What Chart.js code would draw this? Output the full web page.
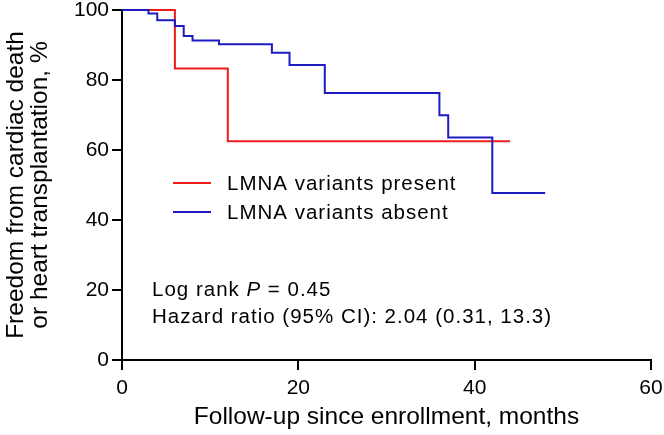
<!DOCTYPE html>
<html>
<head>
<meta charset="utf-8">
<script src="https://cdn.jsdelivr.net/npm/chart.js@4/dist/chart.umd.min.js"></script>
<style>
  html, body { margin: 0; padding: 0; background: #fff; }
  #wrap { width: 664px; height: 435px; }
</style>
</head>
<body>
<div id="wrap"><canvas id="kmChart"></canvas></div>
<script>
// --- data ---
const presentTimes = [0, 6, 12, 44];
const presentSurvival = [100, 83.3, 62.5, 62.5];
const absentTimes = [0, 3, 4, 6, 7, 8, 11, 17, 19, 23, 36, 37, 42, 48];
const absentSurvival = [100, 99, 97.1, 95.4, 92.6, 91.3, 90.2, 87.8, 84.3, 76.3, 69.9, 63.6, 47.7, 47.7];
const xTicks = [0, 20, 40, 60];
const yTicks = [0, 20, 40, 60, 80, 100];
const seriesLabels = ['LMNA variants present', 'LMNA variants absent'];
const statLines = ['Log rank P = 0.45', 'Hazard ratio (95% CI): 2.04 (0.31, 13.3)'];

const RED = '#f01c1c';
const BLUE = '#1c1cc0';
const FONT = '"Liberation Sans", Arial, sans-serif';

function toPoints(xs, ys) {
    return xs.map((x, i) => ({ x: x, y: ys[i] }));
}

// legend + stats text drawn inside the plot area
const notesPlugin = {
    id: 'notes',
    afterDatasetsDraw(chart) {
        const ctx = chart.ctx;
        const a = chart.chartArea;
        ctx.save();
        ctx.letterSpacing = '1px';
        ctx.font = '20.5px ' + FONT;
        ctx.fillStyle = '#000';
        ctx.textBaseline = 'middle';
        ctx.lineWidth = 2;
        const colors = [RED, BLUE];
        const rowsY = [183, 212];
        seriesLabels.forEach(function(lbl, i) {
            ctx.strokeStyle = colors[i];
            ctx.beginPath();
            ctx.moveTo(a.left + 51, rowsY[i]);
            ctx.lineTo(a.left + 89, rowsY[i]);
            ctx.stroke();
            ctx.fillText(lbl, a.left + 105, rowsY[i] + 1);
        });

        // stats block, "P" in italics
        ctx.textBaseline = 'alphabetic';
        let x = a.left + 30;
        const y1 = 296;
        const parts = statLines[0].split('P');
        ctx.fillText(parts[0], x, y1);
        x += ctx.measureText(parts[0]).width;
        ctx.font = 'italic 20.5px ' + FONT;
        ctx.fillText('P', x, y1);
        x += ctx.measureText('P').width;
        ctx.font = '20.5px ' + FONT;
        ctx.fillText(parts[1], x, y1);
        ctx.fillText(statLines[1], a.left + 30, 323);
        ctx.restore();
    }
};

const axisGrid = { drawOnChartArea: false, color: '#000', lineWidth: 2, tickLength: 10 };

new Chart(document.getElementById('kmChart'), {
    type: 'line',
    data: {
        datasets: [
            {
                label: seriesLabels[1],
                data: toPoints(absentTimes, absentSurvival),
                borderColor: BLUE,
                borderWidth: 2,
                stepped: true,
                pointRadius: 0,
                fill: false,
                clip: 4,
                order: 0
            },
            {
                label: seriesLabels[0],
                data: toPoints(presentTimes, presentSurvival),
                borderColor: RED,
                borderWidth: 2,
                stepped: true,
                pointRadius: 0,
                fill: false,
                clip: 4,
                order: 1
            }
        ]
    },
    options: {
        responsive: true,
        maintainAspectRatio: false,
        animation: false,
        devicePixelRatio: 1,
        layout: { padding: { top: 10, right: 13, left: 0, bottom: 0 } },
        plugins: { legend: { display: false }, tooltip: { enabled: false } },
        scales: {
            x: {
                type: 'linear',
                min: 0,
                max: 60,
                afterBuildTicks: function(s) { s.ticks = xTicks.map(v => ({ value: v })); },
                afterFit: function(s) { s.height = 75; s.paddingRight = 0; },
                ticks: { color: '#000', padding: 6, font: { family: FONT, size: 21 } },
                grid: axisGrid,
                border: { color: '#000', width: 2 },
                title: {
                    display: true,
                    text: 'Follow-up since enrollment, months',
                    color: '#000',
                    font: { family: FONT, size: 24.5, lineHeight: 1 },
                    padding: { top: 0, bottom: 6 }
                }
            },
            y: {
                min: 0,
                max: 100,
                afterBuildTicks: function(s) { s.ticks = yTicks.map(v => ({ value: v })); },
                afterFit: function(s) { s.width = 122; s.paddingTop = 0; s.paddingBottom = 0; },
                ticks: { color: '#000', padding: 3, font: { family: FONT, size: 21 } },
                grid: axisGrid,
                border: { color: '#000', width: 2 },
                title: {
                    display: true,
                    text: ['Freedom from cardiac death', 'or heart transplantation, %'],
                    color: '#000',
                    font: { family: FONT, size: 24.5, lineHeight: 0.95 },
                    padding: { top: 5, bottom: 0 }
                }
            }
        }
    },
    plugins: [notesPlugin]
});
</script>
</body>
</html>
